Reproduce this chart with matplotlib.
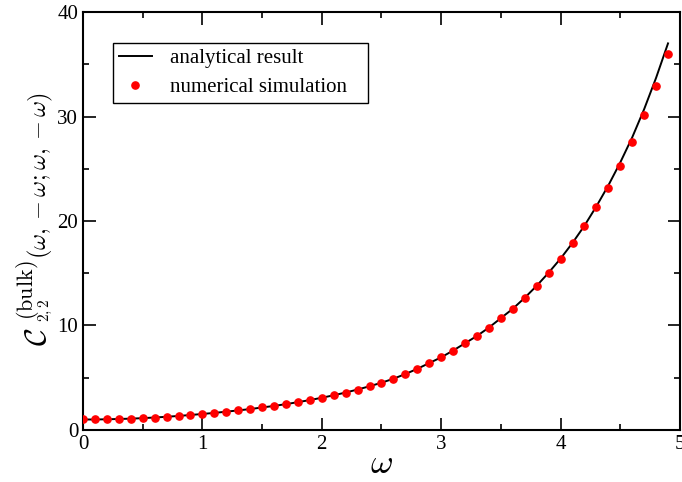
import matplotlib
matplotlib.use("Agg")
import matplotlib.pyplot as plt
from matplotlib.ticker import MultipleLocator

plt.rcParams['font.family'] = ['Liberation Serif', 'DejaVu Serif']
plt.rcParams['mathtext.fontset'] = 'cm'

omega = [0.0, 0.1, 0.2, 0.3, 0.4, 0.5, 0.6, 0.7, 0.8, 0.9,
         1.0, 1.1, 1.2, 1.3, 1.4, 1.5, 1.6, 1.7, 1.8, 1.9,
         2.0, 2.1, 2.2, 2.3, 2.4, 2.5, 2.6, 2.7, 2.8, 2.9,
         3.0, 3.1, 3.2, 3.3, 3.4, 3.5, 3.6, 3.7, 3.8, 3.9,
         4.0, 4.1, 4.2, 4.3, 4.4, 4.5, 4.6, 4.7, 4.8, 4.9]

numerical = [1.0, 1.0, 1.02, 1.05, 1.08, 1.13, 1.19, 1.26, 1.34, 1.43,
             1.53, 1.63, 1.75, 1.87, 2.0, 2.15, 2.3, 2.47, 2.66, 2.86,
             3.08, 3.32, 3.58, 3.87, 4.18, 4.52, 4.9, 5.35, 5.85, 6.4,
             6.95, 7.6, 8.3, 9.0, 9.8, 10.7, 11.6, 12.65, 13.8, 15.05,
             16.4, 17.9, 19.5, 21.3, 23.2, 25.3, 27.6, 30.1, 32.9, 36.0]

analytical = [1.0, 1.0, 1.02, 1.05, 1.08, 1.13, 1.19, 1.26, 1.34, 1.43,
              1.53, 1.63, 1.75, 1.87, 2.0, 2.15, 2.3, 2.47, 2.66, 2.86,
              3.08, 3.32, 3.58, 3.87, 4.18, 4.52, 4.9, 5.35, 5.85, 6.4,
              6.95, 7.6, 8.3, 9.0, 9.8, 10.7, 11.6, 12.65, 13.8, 15.05,
              16.4, 17.9, 19.55, 21.4, 23.4, 25.6, 28.0, 30.7, 33.7, 37.0]

W, H = 682, 482
fig = plt.figure(figsize=(W / 100, H / 100), dpi=100)
ax = fig.add_axes([0.1217, 0.108, 0.8753, 0.867])

ax.plot(omega, analytical, color='black', lw=1.4, label='analytical result', zorder=2)
ax.plot(omega, numerical, 'o', color='red', ms=5.2, mec='red', label='numerical simulation', zorder=3)

ax.set_xlim(0, 5)
ax.set_ylim(0, 40)
ax.xaxis.set_major_locator(MultipleLocator(1))
ax.xaxis.set_minor_locator(MultipleLocator(0.5))
ax.yaxis.set_major_locator(MultipleLocator(10))
ax.yaxis.set_minor_locator(MultipleLocator(5))
ax.tick_params(which='both', direction='in', top=True, right=True, labelsize=15, width=1.2)
ax.tick_params(which='major', length=9)
ax.tick_params(which='minor', length=4.5)
for s in ax.spines.values():
    s.set_linewidth(1.5)

ax.set_xlabel(r'$\omega$', fontsize=25, labelpad=-4)


def ftxt(xpx, ypx, s, size):
    fig.text(xpx / W, (H - ypx) / H, s, rotation=90, rotation_mode='anchor',
             ha='left', va='baseline', fontsize=size)


# y-axis label built from pieces (large superscript as in reference)
ftxt(46, 346, r'$\mathcal{C}$', 22)
ftxt(33, 320, r'$\mathrm{(bulk)}$', 16)
ftxt(49, 322, r'$\mathrm{2,2}$', 11)
ftxt(46, 259, r'$(\omega,-\omega;\omega,-\omega)$', 17.5)

leg = ax.legend(loc='upper left', bbox_to_anchor=(0.05, 0.926), fontsize=15, frameon=True,
                fancybox=False, edgecolor='black', framealpha=1, borderpad=0.28,
                handlelength=1.6, handletextpad=0.85, labelspacing=0.45, numpoints=1,
                borderaxespad=0)
for t in leg.get_texts():
    t.set_text(t.get_text() + '   ')
leg.get_frame().set_linewidth(1.0)

fig.savefig('out.png', dpi=100)
